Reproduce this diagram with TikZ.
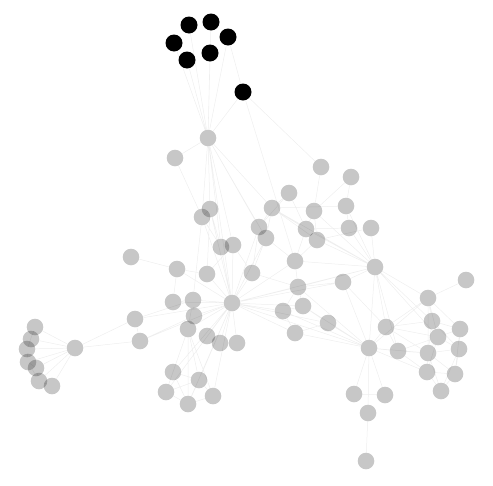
\documentclass[tikz,border=0pt]{standalone}
\usetikzlibrary{backgrounds}
\definecolor{LinkColor}{HTML}{EEEEEE}

\begin{document}
\begin{tikzpicture}[
    x=1pt, y=-1pt,
    person/.style={circle, fill=black, fill opacity=0.22, draw=none, minimum size=16.6pt, inner sep=0pt},
    picked/.style={circle, fill=black, draw=none, minimum size=17pt, inner sep=0pt},
    link/.style={LinkColor, line width=0.5pt}
  ]
  \useasboundingbox (0,0) rectangle (493,485);

  \node[picked] (b1) at (189,25) {};
  \node[picked] (b2) at (211,22) {};
  \node[picked] (b3) at (228,37) {};
  \node[picked] (b4) at (174,43) {};
  \node[picked] (b5) at (210,53) {};
  \node[picked] (b6) at (187,60) {};
  \node[picked] (b7) at (243,92) {};

  \node[person] (g1) at (208,138) {};
  \node[person] (g2) at (175,158) {};
  \node[person] (g3) at (321,167) {};
  \node[person] (g4) at (351,177) {};
  \node[person] (g5) at (289,193) {};
  \node[person] (g6) at (272,208) {};
  \node[person] (g7) at (314,211) {};
  \node[person] (g8) at (346,206) {};
  \node[person] (g9) at (210,209) {};
  \node[person] (g10) at (202,217) {};
  \node[person] (g11) at (259,227) {};
  \node[person] (g12) at (266,238) {};
  \node[person] (g13) at (306,229) {};
  \node[person] (g14) at (317,240) {};
  \node[person] (g15) at (349,228) {};
  \node[person] (g16) at (371,228) {};
  \node[person] (g17) at (221,247) {};
  \node[person] (g18) at (233,245) {};
  \node[person] (g19) at (131,257) {};
  \node[person] (g20) at (177,269) {};
  \node[person] (g21) at (207,274) {};
  \node[person] (g22) at (252,273) {};
  \node[person] (g23) at (295,261) {};
  \node[person] (g24) at (375,267) {};
  \node[person] (g25) at (466,280) {};
  \node[person] (g26) at (298,287) {};
  \node[person] (g27) at (343,282) {};
  \node[person] (g28) at (428,298) {};
  \node[person] (g29) at (173,302) {};
  \node[person] (g30) at (193,300) {};
  \node[person] (g31) at (194,316) {};
  \node[person] (g32) at (188,329) {};
  \node[person] (g33) at (232,303) {};
  \node[person] (g34) at (135,319) {};
  \node[person] (g35) at (140,341) {};
  \node[person] (g36) at (207,336) {};
  \node[person] (g37) at (220,343) {};
  \node[person] (g38) at (237,343) {};
  \node[person] (g39) at (75,348) {};
  \node[person] (g40) at (35,327) {};
  \node[person] (g41) at (31,339) {};
  \node[person] (g42) at (27,349) {};
  \node[person] (g43) at (28,362) {};
  \node[person] (g44) at (36,368) {};
  \node[person] (g45) at (39,381) {};
  \node[person] (g46) at (52,386) {};
  \node[person] (g47) at (173,372) {};
  \node[person] (g48) at (199,380) {};
  \node[person] (g49) at (166,392) {};
  \node[person] (g50) at (188,404) {};
  \node[person] (g51) at (213,396) {};
  \node[person] (g52) at (283,311) {};
  \node[person] (g53) at (303,306) {};
  \node[person] (g54) at (295,333) {};
  \node[person] (g55) at (328,323) {};
  \node[person] (g56) at (386,327) {};
  \node[person] (g57) at (369,348) {};
  \node[person] (g58) at (398,351) {};
  \node[person] (g59) at (432,321) {};
  \node[person] (g60) at (460,329) {};
  \node[person] (g61) at (438,337) {};
  \node[person] (g62) at (428,353) {};
  \node[person] (g63) at (459,349) {};
  \node[person] (g64) at (427,372) {};
  \node[person] (g65) at (455,374) {};
  \node[person] (g66) at (441,391) {};
  \node[person] (g67) at (354,394) {};
  \node[person] (g68) at (385,395) {};
  \node[person] (g69) at (368,413) {};
  \node[person] (g70) at (366,461) {};

  \begin{scope}[on background layer]
    \draw[link] (b1) -- (g1) (b2) -- (g1) (b3) -- (g1) (b4) -- (g1) (b5) -- (g1) (b6) -- (g1)
      (b3) -- (b7) (b7) -- (g1) (b7) -- (g3) (b7) -- (g23);
    \draw[link] (g1) -- (g2) (g1) -- (g9) (g1) -- (g10) (g1) -- (g17) (g1) -- (g18) (g1) -- (g33)
      (g1) -- (g11) (g1) -- (g6) (g1) -- (g12) (g2) -- (g10);
    \draw[link] (g3) -- (g7) (g4) -- (g8) (g4) -- (g7) (g5) -- (g6) (g5) -- (g11) (g5) -- (g13)
      (g6) -- (g8) (g6) -- (g11) (g6) -- (g12) (g6) -- (g13) (g6) -- (g14) (g6) -- (g24)
      (g7) -- (g13) (g7) -- (g14) (g7) -- (g24) (g8) -- (g15) (g8) -- (g24) (g13) -- (g14)
      (g13) -- (g15) (g13) -- (g24) (g14) -- (g24) (g14) -- (g16) (g15) -- (g24) (g16) -- (g24)
      (g11) -- (g12) (g11) -- (g22) (g12) -- (g22) (g12) -- (g23) (g11) -- (g33) (g12) -- (g33)
      (g13) -- (g23) (g14) -- (g23) (g23) -- (g26) (g23) -- (g24) (g23) -- (g33) (g22) -- (g33)
      (g22) -- (g26) (g9) -- (g10) (g9) -- (g33) (g10) -- (g33) (g9) -- (g17) (g10) -- (g17)
      (g17) -- (g18) (g17) -- (g33) (g18) -- (g33) (g18) -- (g22) (g9) -- (g21) (g10) -- (g30);
    \draw[link] (g40) -- (g39) (g41) -- (g39) (g42) -- (g39) (g43) -- (g39) (g44) -- (g39)
      (g45) -- (g39) (g46) -- (g39) (g40) -- (g41) (g41) -- (g42) (g42) -- (g43) (g43) -- (g44)
      (g44) -- (g45) (g45) -- (g46) (g40) -- (g42) (g43) -- (g45)
      (g39) -- (g34) (g39) -- (g35) (g34) -- (g30) (g34) -- (g33) (g35) -- (g31) (g35) -- (g33)
      (g34) -- (g35);
    \draw[link] (g19) -- (g20) (g20) -- (g21) (g20) -- (g29) (g20) -- (g33) (g21) -- (g33)
      (g21) -- (g18) (g29) -- (g30) (g29) -- (g33) (g30) -- (g31) (g30) -- (g33) (g31) -- (g32)
      (g31) -- (g33) (g32) -- (g33) (g30) -- (g32);
    \draw[link] (g32) -- (g47) (g32) -- (g48) (g32) -- (g49) (g32) -- (g50) (g32) -- (g51)
      (g47) -- (g48) (g47) -- (g49) (g48) -- (g50) (g49) -- (g50) (g50) -- (g51) (g48) -- (g51)
      (g47) -- (g50) (g48) -- (g49) (g33) -- (g47) (g33) -- (g48) (g33) -- (g49) (g33) -- (g50)
      (g33) -- (g51) (g33) -- (g36) (g33) -- (g37) (g33) -- (g38) (g36) -- (g37);
    \draw[link] (g33) -- (g52) (g33) -- (g53) (g33) -- (g54) (g33) -- (g26) (g33) -- (g55)
      (g33) -- (g57) (g33) -- (g24) (g33) -- (g27) (g52) -- (g53) (g52) -- (g26) (g53) -- (g26)
      (g52) -- (g54) (g53) -- (g55) (g26) -- (g27) (g27) -- (g24) (g27) -- (g57) (g27) -- (g56)
      (g55) -- (g57) (g55) -- (g54) (g53) -- (g57) (g52) -- (g57) (g54) -- (g57) (g26) -- (g57)
      (g26) -- (g24);
    \draw[link] (g24) -- (g56) (g24) -- (g57) (g24) -- (g59) (g24) -- (g61) (g24) -- (g28)
      (g24) -- (g58) (g25) -- (g28) (g28) -- (g56) (g28) -- (g59) (g28) -- (g61) (g28) -- (g62)
      (g28) -- (g57) (g28) -- (g60);
    \draw[link] (g56) -- (g58) (g56) -- (g59) (g56) -- (g61) (g56) -- (g62) (g56) -- (g57)
      (g57) -- (g58) (g57) -- (g62) (g57) -- (g64) (g58) -- (g62) (g58) -- (g64) (g58) -- (g61)
      (g59) -- (g60) (g59) -- (g61) (g59) -- (g62) (g60) -- (g61) (g60) -- (g63) (g61) -- (g62)
      (g61) -- (g63) (g62) -- (g63) (g62) -- (g64) (g62) -- (g65) (g63) -- (g65) (g64) -- (g65)
      (g64) -- (g66) (g65) -- (g66) (g62) -- (g66) (g61) -- (g64) (g59) -- (g63) (g60) -- (g65)
      (g63) -- (g66);
    \draw[link] (g57) -- (g67) (g57) -- (g68) (g67) -- (g68) (g57) -- (g69) (g69) -- (g70);
  \end{scope}
\end{tikzpicture}
\end{document}
